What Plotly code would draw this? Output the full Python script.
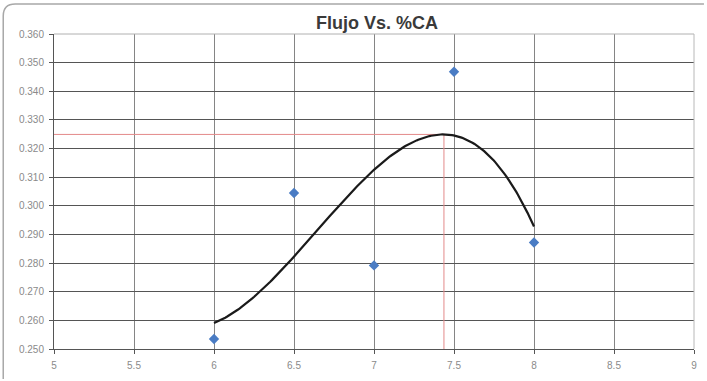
import numpy as np
import plotly.graph_objects as go

# Data
ca_pct = [6.0, 6.5, 7.0, 7.5, 8.0]
flujo = [0.2535, 0.3045, 0.2792, 0.3468, 0.2872]

x_ticks = [5, 5.5, 6, 6.5, 7, 7.5, 8, 8.5, 9]
x_tick_text = ["5", "5.5", "6", "6.5", "7", "7.5", "8", "8.5", "9"]
y_ticks = [0.25, 0.26, 0.27, 0.28, 0.29, 0.30, 0.31, 0.32, 0.33, 0.34, 0.35, 0.36]
y_tick_text = ["0.250", "0.260", "0.270", "0.280", "0.290", "0.300",
               "0.310", "0.320", "0.330", "0.340", "0.350", "0.360"]

# Cubic (polynomial, order 3) trendline of the data, as in the original spreadsheet chart
coef = np.polyfit(ca_pct, flujo, 3)
xs = np.linspace(min(ca_pct), max(ca_pct), 200)
ys = np.polyval(coef, xs)
i_max = int(np.argmax(ys))
x_peak, y_peak = float(xs[i_max]), float(ys[i_max])

fig = go.Figure()

# red guide lines to the maximum of the trendline
fig.add_trace(go.Scatter(x=[5, x_peak, x_peak], y=[y_peak, y_peak, 0.25],
                         mode="lines", line=dict(color="#e38a8a", width=1),
                         hoverinfo="skip", showlegend=False))
# trendline
fig.add_trace(go.Scatter(x=xs, y=ys, mode="lines",
                         line=dict(color="#1a1a1a", width=2.2),
                         showlegend=False))
# data points
fig.add_trace(go.Scatter(x=ca_pct, y=flujo, mode="markers",
                         marker=dict(symbol="diamond", size=8, color="#4a7cc4",
                                     line=dict(width=0)),
                         showlegend=False))

L, R, T, B = 54, 10, 34, 32
W, H = 707, 381
pw, ph = W - L - R, H - T - B

def px(xp):
    return (xp - L) / pw

def py(yp):
    return (H - B - yp) / ph

frame = (f"M {px(3)},{py(379)} L {px(3)},{py(16)} "
         f"Q {px(3)},{py(4)} {px(15)},{py(4)} L {px(707)},{py(4)}")

fig.update_layout(
    width=W, height=H,
    margin=dict(l=L, r=R, t=T, b=B),
    paper_bgcolor="white", plot_bgcolor="white",
    font=dict(family="Liberation Sans, Arial, sans-serif"),
    title=dict(text="<b>Flujo Vs. %CA</b>", x=377 / W, xanchor="center",
               y=1 - 23 / H, yanchor="middle", yref="container",
               font=dict(size=18, color="#3a3a3a")),
    xaxis=dict(range=[5, 9], tickvals=x_ticks, ticktext=x_tick_text,
               showgrid=True, gridcolor="#858585", gridwidth=1,
               showline=True, linecolor="#555555", linewidth=1,
               ticks="outside", ticklen=4, tickcolor="#555555",
               ticklabelstandoff=3,
               tickfont=dict(size=10, color="#8a8a8a"), zeroline=False),
    yaxis=dict(range=[0.25, 0.36], tickvals=y_ticks, ticktext=y_tick_text,
               showgrid=True, gridcolor="#555555", gridwidth=1,
               showline=True, linecolor="#555555", linewidth=1,
               ticks="outside", ticklen=4, tickcolor="#555555",
               ticklabelstandoff=3,
               tickfont=dict(size=10, color="#8a8a8a"), zeroline=False),
    shapes=[
        dict(type="path", xref="paper", yref="paper", path=frame,
             line=dict(color="#a8a8a8", width=1.5)),
        dict(type="line", xref="paper", yref="paper", x0=0, x1=1, y0=1, y1=1,
             line=dict(color="#b0b0b0", width=1)),
        dict(type="line", xref="paper", yref="paper", x0=1, x1=1, y0=0, y1=1,
             line=dict(color="#b8b8b8", width=1)),
    ],
)

fig.write_html("out.html")
